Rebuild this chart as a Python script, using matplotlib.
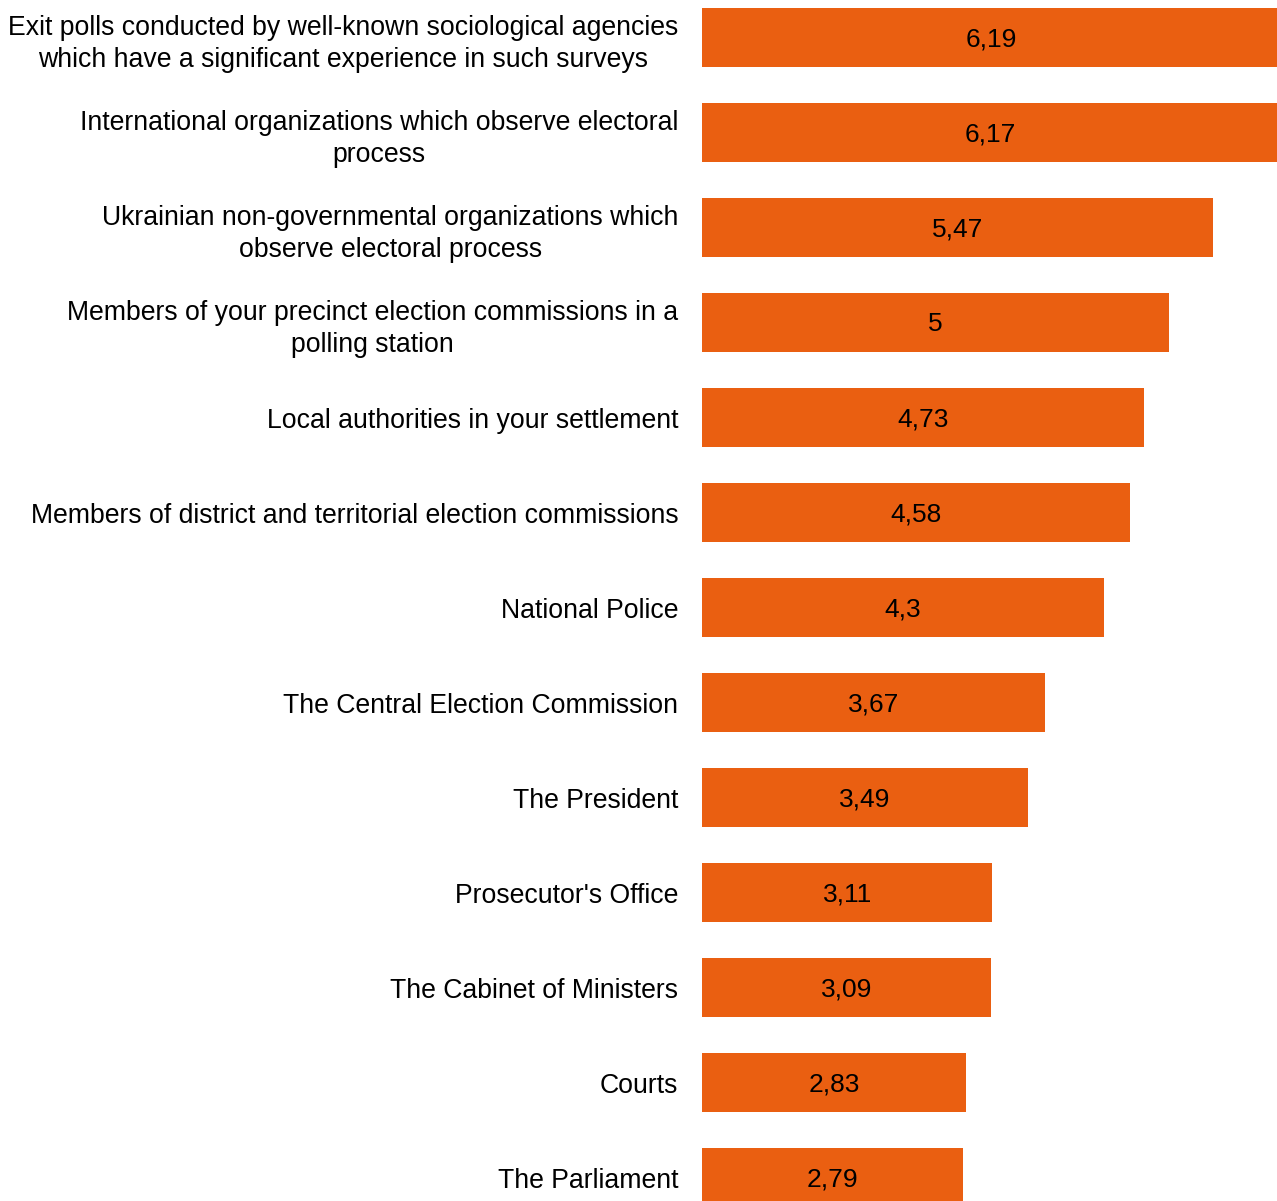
import matplotlib
matplotlib.use("Agg")
import matplotlib.pyplot as plt

plt.rcParams['font.family'] = ['Liberation Sans', 'DejaVu Sans']

categories = [
    "Exit polls conducted by well-known sociological agencies\nwhich have a significant experience in such surveys",
    "International organizations which observe electoral\nprocess",
    "Ukrainian non-governmental organizations which\nobserve electoral process",
    "Members of your precinct election commissions in a\npolling station",
    "Local authorities in your settlement",
    "Members of district and territorial election commissions",
    "National Police",
    "The Central Election Commission",
    "The President",
    "Prosecutor's Office",
    "The Cabinet of Ministers",
    "Courts",
    "The Parliament",
]
values = [6.19, 6.17, 5.47, 5.0, 4.73, 4.58, 4.3, 3.67, 3.49, 3.11, 3.09, 2.83, 2.79]
value_labels = ["6,19", "6,17", "5,47", "5", "4,73", "4,58", "4,3", "3,67", "3,49", "3,11", "3,09", "2,83", "2,79"]

bar_color = "#EA5F11"

fig = plt.figure(figsize=(12.77, 12.01), dpi=100)
ax = fig.add_axes([702 / 1277, 0, 575 / 1277, 1])

y = list(range(len(categories)))
ax.barh(y, values, height=0.62, color=bar_color)

for yi, v, lab in zip(y, values, value_labels):
    ax.text(v / 2, yi + 0.02, lab, ha="center", va="center", fontsize=19, color="black")

ax.set_xlim(0, 6.156)
ax.set_ylim(12.247, -0.395)
ax.set_yticks(y)
ax.set_yticklabels(categories, fontsize=19.2, ha="right", multialignment="center",
                   linespacing=1.3)
ax.tick_params(axis="y", length=0, pad=17)
ax.set_xticks([])
for s in ax.spines.values():
    s.set_visible(False)

fig.savefig("out.png", dpi=100)
